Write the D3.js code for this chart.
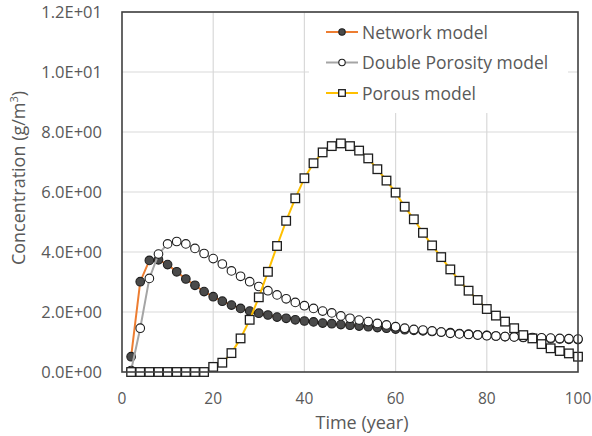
<!DOCTYPE html>
<html><head><meta charset="utf-8">
<script src="https://cdn.jsdelivr.net/npm/d3@7"></script>
<style>body{margin:0;background:#fff}svg{display:block}text{font-family:"Open Sans",Lato,sans-serif;fill:#595959}</style>
</head><body>
<svg id="c" width="592" height="436"></svg>
<script>
const years = d3.range(2, 101, 2);
const networkModel = [0.51,3.01,3.72,3.74,3.58,3.34,3.10,2.89,2.68,2.51,2.36,2.23,2.12,2.03,1.96,1.90,1.83,1.79,1.74,1.70,1.67,1.63,1.61,1.58,1.56,1.53,1.51,1.48,1.46,1.43,1.41,1.39,1.37,1.35,1.33,1.31,1.28,1.26,1.24,1.22,1.20,1.18,1.17,1.15,1.14,1.12,1.11,1.10,1.09,1.08];
const doublePorosity = [0.05,1.46,3.12,3.93,4.27,4.35,4.27,4.12,3.95,3.78,3.60,3.37,3.19,3.01,2.85,2.71,2.57,2.44,2.32,2.21,2.12,2.03,1.97,1.87,1.79,1.73,1.68,1.62,1.57,1.51,1.46,1.42,1.40,1.37,1.33,1.29,1.27,1.25,1.23,1.21,1.20,1.18,1.17,1.16,1.15,1.14,1.13,1.12,1.11,1.10];
const porousModel = [0,0,0,0,0,0,0,0,0,0.17,0.31,0.63,1.12,1.74,2.49,3.34,4.20,5.04,5.79,6.46,6.96,7.32,7.53,7.62,7.53,7.38,7.12,6.76,6.38,5.98,5.51,5.09,4.64,4.22,3.83,3.42,3.04,2.71,2.40,2.10,1.88,1.68,1.46,1.23,1.12,0.93,0.79,0.70,0.62,0.51];
const xTicks = [0,20,40,60,80,100];
const yTicks = [0,2,4,6,8,10,12];
const yTickLabels = ["0.0E+00","2.0E+00","4.0E+00","6.0E+00","8.0E+00","1.0E+01","1.2E+01"];
const seriesNames = ["Network model","Double Porosity model","Porous model"];

const svg = d3.select("#c");
const L=122, R=578, T=12, B=372;
const x = d3.scaleLinear().domain([0,100]).range([L,R]);
const y = d3.scaleLinear().domain([0,12]).range([B,T]);

svg.append("g").selectAll("line").data(yTicks.slice(1)).join("line")
  .attr("x1",L).attr("x2",R).attr("y1",d=>y(d)).attr("y2",d=>y(d))
  .attr("stroke","#d9d9d9").attr("stroke-width",1.2);
svg.append("g").selectAll("line").data(xTicks.slice(1,-1)).join("line")
  .attr("y1",T).attr("y2",B).attr("x1",d=>x(d)).attr("x2",d=>x(d))
  .attr("stroke","#d9d9d9").attr("stroke-width",1.2);

svg.append("g").selectAll("text").data(yTicks).join("text")
  .attr("x",102).attr("y",d=>y(d)+5.5).attr("text-anchor","end")
  .attr("font-size",16.5).text((d,i)=>yTickLabels[i]);
svg.append("g").selectAll("text").data(xTicks).join("text")
  .attr("x",d=>x(d)).attr("y",404).attr("text-anchor","middle")
  .attr("font-size",15.5).text(d=>d);
svg.append("text").attr("x",362).attr("y",429).attr("text-anchor","middle")
  .attr("font-size",18).text("Time (year)");
const yt = svg.append("text").attr("transform","translate(25,178) rotate(-90)")
  .attr("text-anchor","middle").attr("font-size",18);
yt.append("tspan").text("Concentration  (g/m");
yt.append("tspan").attr("font-size",11).attr("dy",-7).text("3");
yt.append("tspan").attr("dy",7).text(")");

const styles = [
  {data:networkModel, color:"#ED7D31", shape:"circle", fill:"#4a4a4a"},
  {data:doublePorosity, color:"#A5A5A5", shape:"circle", fill:"#ffffff"},
  {data:porousModel, color:"#FFC000", shape:"square", fill:"#ffffff"}
];
const line = d3.line().x((d,i)=>x(years[i])).y(d=>y(d));
styles.forEach(s=>{
  const g = svg.append("g");
  g.append("path").datum(s.data).attr("d",line).attr("fill","none")
    .attr("stroke",s.color).attr("stroke-width",2);
  if(s.shape==="circle"){
    g.selectAll("circle").data(s.data).join("circle")
      .attr("cx",(d,i)=>x(years[i])).attr("cy",d=>y(d)).attr("r",4.3)
      .attr("fill",s.fill).attr("stroke","#1e1e1e").attr("stroke-width",1.1);
  } else {
    g.selectAll("rect").data(s.data).join("rect")
      .attr("x",(d,i)=>x(years[i])-4.3).attr("y",d=>y(d)-4.3).attr("width",8.6).attr("height",8.6)
      .attr("fill",s.fill).attr("stroke","#1e1e1e").attr("stroke-width",1.3);
  }
});

svg.append("rect").attr("x",L).attr("y",T).attr("width",R-L).attr("height",B-T)
  .attr("fill","none").attr("stroke","#404040").attr("stroke-width",1.6);

const lg = svg.append("g");
lg.append("rect").attr("x",309).attr("y",T+1).attr("width",259).attr("height",100).attr("fill","#fff");
styles.forEach((s,i)=>{
  const cy = 32 + i*30.5;
  lg.append("line").attr("x1",326).attr("x2",358).attr("y1",cy).attr("y2",cy)
    .attr("stroke",s.color).attr("stroke-width",2);
  if(s.shape==="circle") lg.append("circle").attr("cx",342).attr("cy",cy).attr("r",3.2)
    .attr("fill",s.fill).attr("stroke","#1e1e1e").attr("stroke-width",1.1);
  else lg.append("rect").attr("x",342-3.3).attr("y",cy-3.3).attr("width",6.6).attr("height",6.6)
    .attr("fill",s.fill).attr("stroke","#1e1e1e").attr("stroke-width",1.3);
  lg.append("text").attr("x",362).attr("y",cy+6.5).attr("font-size",17.5).text(seriesNames[i]);
});
</script>
</body></html>
